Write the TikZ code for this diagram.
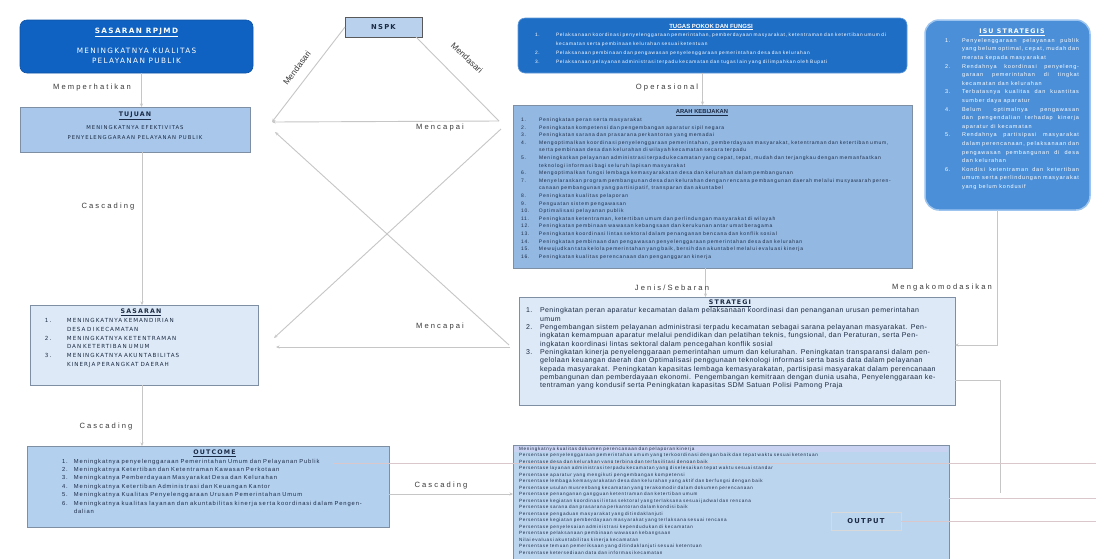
\documentclass[tikz,border=0pt]{standalone}
\usepackage{fontspec}
\setmainfont{Liberation Sans}
\newfontfamily\widefont[LetterSpace=18]{DejaVu Sans}
\newfontfamily\labfont[LetterSpace=28]{Liberation Sans}
\newfontfamily\listfont[LetterSpace=15]{Liberation Sans}
\newfontfamily\stratfont[LetterSpace=6]{Liberation Sans}
\usetikzlibrary{arrows.meta,calc}
\definecolor{rpjmdcol}{HTML}{1062C2}
\definecolor{tufucol}{HTML}{1F6EC6}
\definecolor{isucol}{HTML}{4B8FD8}
\definecolor{isuedge}{HTML}{9CC4EE}
\definecolor{tujuanfill}{HTML}{A8C7EA}
\definecolor{arahfill}{HTML}{93B8E2}
\definecolor{palefill}{HTML}{DDE9F6}
\definecolor{outcomefill}{HTML}{B3D0EE}
\definecolor{outputfill}{HTML}{BCD5EF}
\definecolor{stripfill}{HTML}{C9D2F0}
\definecolor{nspkfill}{HTML}{B9D1EC}
\definecolor{boxedge}{HTML}{7F8FA3}
\definecolor{conncol}{HTML}{C6C6C6}
\definecolor{pinkcol}{HTML}{D9C7CC}
\definecolor{txt}{HTML}{1B2A44}
\definecolor{labtxt}{HTML}{3A3A3A}
\setlength\parskip{0pt}
\newlength\lsw
\newcommand{\lsitem}[2]{\par\noindent\hangindent=\lsw\hangafter=1\makebox[\lsw][l]{#1}#2}
\newcommand{\boxtitle}[1]{{\centering #1\par}}
\begin{document}
\begin{tikzpicture}[x=1pt,y=-1pt,
  boxnode/.style={draw=boxedge, line width=0.6pt, anchor=north west, inner sep=0pt, outer sep=0pt},
  txtnode/.style={anchor=north west, inner sep=0pt, outer sep=0pt, align=left, text=txt},
  conn/.style={draw=conncol, line width=0.9pt},
  arr/.style={conn, -{Stealth[length=3.5pt,width=3pt]}},
  pinkline/.style={draw=pinkcol, line width=0.8pt},
  lab/.style={font=\labfont\fontsize{7.6}{8}\selectfont, text=labtxt, inner sep=0pt},
  rlab/.style={font=\fontsize{8.5}{9}\selectfont, text=labtxt, inner sep=0pt}]
\fill[white] (0,0) rectangle (1096,558);
\useasboundingbox (0,0) rectangle (1096,558);

% ---------- boxes ----------
\node[boxnode, fill=rpjmdcol, draw=rpjmdcol!85!black, rounded corners=7pt, minimum width=233pt, minimum height=53pt] (rpjmd) at (20,20) {};
\node[anchor=north, inner sep=0pt, align=center, text=white, font=\widefont\fontsize{7.3}{10}\selectfont] (rpjmdT) at ($(rpjmd.north)+(0,8)$)
 {\textbf{\underline{SASARAN RPJMD}}\\[10pt]MENINGKATNYA KUALITAS\\PELAYANAN PUBLIK};

\node[boxnode, fill=tujuanfill, minimum width=230pt, minimum height=45pt] (tujuan) at (20,107) {};
\node[anchor=north, inner sep=0pt, align=center, text=txt, font=\widefont\fontsize{5.3}{10.5}\selectfont] (tujuanT) at ($(tujuan.north)+(0,5)$)
 {{\fontsize{6.3}{7}\selectfont\textbf{\underline{TUJUAN}}}\\[2pt]MENINGKATNYA EFEKTIVITAS\\PENYELENGGARAAN PELAYANAN PUBLIK};

\node[boxnode, fill=palefill, minimum width=228pt, minimum height=80pt] (sasaran) at (30,305) {};
\node[txtnode, text width=192pt, font=\widefont\fontsize{5.6}{8.8}\selectfont] (sasaranT) at (45,309)
 {\boxtitle{\fontsize{6.3}{8.8}\selectfont\textbf{\underline{SASARAN}}}\setlength\lsw{22pt}%
  \lsitem{1.}{MENINGKATNYA KEMANDIRIAN\newline DESA DI KECAMATAN}%
  \lsitem{2.}{MENINGKATNYA KETENTRAMAN\newline DAN KETERTIBAN UMUM}%
  \lsitem{3.}{MENINGKATNYA AKUNTABILITAS\newline KINERJA PERANGKAT DAERAH}\par};

\node[boxnode, fill=outcomefill, minimum width=362pt, minimum height=81pt] (outcome) at (27,446) {};
\node[txtnode, text width=305pt, font=\listfont\fontsize{5.8}{8.4}\selectfont] (outcomeT) at (62,450)
 {\boxtitle{\widefont\fontsize{6.3}{8.4}\selectfont\textbf{\underline{OUTCOME}}}\setlength\lsw{12pt}%
  \lsitem{1.}{Meningkatnya penyelenggaraan Pemerintahan Umum dan Pelayanan Publik}%
  \lsitem{2.}{Meningkatnya Ketertiban dan Ketentraman Kawasan Perkotaan}%
  \lsitem{3.}{Meningkatnya Pemberdayaan Masyarakat Desa dan Kelurahan}%
  \lsitem{4.}{Meningkatnya Ketertiban Administrasi dan Keuangan Kantor}%
  \lsitem{5.}{Meningkatnya Kualitas Penyelenggaraan Urusan Pemerintahan Umum}%
  \lsitem{6.}{Meningkatnya kualitas layanan dan akuntabilitas kinerja serta koordinasi dalam Pengendalian}\par};

\node[boxnode, fill=nspkfill, draw=gray!70!black, minimum width=77pt, minimum height=20pt, text=txt, font=\widefont\bfseries\fontsize{6.8}{7}\selectfont] (nspk) at (345,17) {NSPK};

\node[boxnode, fill=tufucol, draw=tufucol!70!white, rounded corners=7pt, minimum width=389pt, minimum height=55pt] (tufu) at (518,18) {};
\node[txtnode, text=white, text width=352pt, font=\listfont\fontsize{4.8}{8.8}\selectfont] (tufuT) at (535,24)
 {\boxtitle{\rmfamily\fontsize{6}{7}\selectfont\textbf{\underline{TUGAS POKOK DAN FUNGSI}}}\setlength\lsw{21pt}%
  \lsitem{1.}{Pelaksanaan koordinasi penyelenggaraan pemerintahan, pemberdayaan masyarakat, ketentraman dan ketertiban umum di kecamatan serta pembinaan kelurahan sesuai ketentuan}%
  \lsitem{2.}{Pelaksanaan pembinaan dan pengawasan penyelenggaraan pemerintahan desa dan kelurahan}%
  \lsitem{3.}{Pelaksanaan pelayanan administrasi terpadu kecamatan dan tugas lain yang dilimpahkan oleh Bupati}\par};

\node[boxnode, fill=isucol, draw=isuedge, line width=1.5pt, rounded corners=14pt, minimum width=165pt, minimum height=190pt] (isu) at (925,20) {};
\node[txtnode, align=justify, text=white, text width=134pt, font=\listfont\fontsize{5.5}{8.6}\selectfont] (isuT) at (945,29)
 {\boxtitle{\widefont\fontsize{6.3}{8.6}\selectfont\textbf{\underline{ISU STRATEGIS}}}\setlength\lsw{17pt}%
  \lsitem{1.}{Penyelenggaraan pelayanan publik yang belum optimal, cepat, mudah dan merata kepada masyarakat}%
  \lsitem{2.}{Rendahnya koordinasi penyelenggaraan pemerintahan di tingkat kecamatan dan kelurahan}%
  \lsitem{3.}{Terbatasnya kualitas dan kuantitas sumber daya aparatur}%
  \lsitem{4.}{Belum optimalnya pengawasan dan pengendalian terhadap kinerja aparatur di kecamatan}%
  \lsitem{5.}{Rendahnya partisipasi masyarakat dalam perencanaan, pelaksanaan dan pengawasan pembangunan di desa dan kelurahan}%
  \lsitem{6.}{Kondisi ketentraman dan ketertiban umum serta perlindungan masyarakat yang belum kondusif}\par};

\node[boxnode, fill=arahfill, minimum width=399pt, minimum height=163pt] (arah) at (513,105) {};
\node[txtnode, text width=362pt, font=\listfont\fontsize{5}{7.6}\selectfont] (arahT) at (521,110)
 {\boxtitle{\rmfamily\fontsize{5.8}{7.6}\selectfont\textbf{\underline{ARAH KEBIJAKAN}}}\setlength\lsw{18pt}%
  \lsitem{1.}{Peningkatan peran serta masyarakat}%
  \lsitem{2.}{Peningkatan kompetensi dan pengembangan aparatur sipil negara}%
  \lsitem{3.}{Peningkatan sarana dan prasarana perkantoran yang memadai}%
  \lsitem{4.}{Mengoptimalkan koordinasi penyelenggaraan pemerintahan, pemberdayaan masyarakat, ketentraman dan ketertiban umum, serta pembinaan desa dan kelurahan di wilayah kecamatan secara terpadu}%
  \lsitem{5.}{Meningkatkan pelayanan administrasi terpadu kecamatan yang cepat, tepat, mudah dan terjangkau dengan memanfaatkan teknologi informasi bagi seluruh lapisan masyarakat}%
  \lsitem{6.}{Mengoptimalkan fungsi lembaga kemasyarakatan desa dan kelurahan dalam pembangunan}%
  \lsitem{7.}{Menyelaraskan program pembangunan desa dan kelurahan dengan rencana pembangunan daerah melalui musyawarah perencanaan pembangunan yang partisipatif, transparan dan akuntabel}%
  \lsitem{8.}{Peningkatan kualitas pelaporan}%
  \lsitem{9.}{Penguatan sistem pengawasan}%
  \lsitem{10.}{Optimalisasi pelayanan publik}%
  \lsitem{11.}{Peningkatan ketentraman, ketertiban umum dan perlindungan masyarakat di wilayah}%
  \lsitem{12.}{Peningkatan pembinaan wawasan kebangsaan dan kerukunan antar umat beragama}%
  \lsitem{13.}{Peningkatan koordinasi lintas sektoral dalam penanganan bencana dan konflik sosial}%
  \lsitem{14.}{Peningkatan pembinaan dan pengawasan penyelenggaraan pemerintahan desa dan kelurahan}%
  \lsitem{15.}{Mewujudkan tata kelola pemerintahan yang baik, bersih dan akuntabel melalui evaluasi kinerja}%
  \lsitem{16.}{Peningkatan kualitas perencanaan dan penganggaran kinerja}\par};

\node[boxnode, fill=palefill, minimum width=436pt, minimum height=108pt] (strategi) at (519,297) {};
\node[txtnode, text width=408pt, font=\stratfont\fontsize{7}{8.3}\selectfont] (strategiT) at (526,300)
 {\boxtitle{\widefont\fontsize{6.3}{8.3}\selectfont\textbf{\underline{STRATEGI}}}\setlength\lsw{14pt}%
  \lsitem{1.}{Peningkatan peran aparatur kecamatan dalam pelaksanaan koordinasi dan penanganan urusan pemerintahan umum}%
  \lsitem{2.}{Pengembangan sistem pelayanan administrasi terpadu kecamatan sebagai sarana pelayanan masyarakat. Peningkatan kemampuan aparatur melalui pendidikan dan pelatihan teknis, fungsional, dan Peraturan, serta Peningkatan koordinasi lintas sektoral dalam pencegahan konflik sosial}%
  \lsitem{3.}{Peningkatan kinerja penyelenggaraan pemerintahan umum dan kelurahan. Peningkatan transparansi dalam pengelolaan keuangan daerah dan Optimalisasi penggunaan teknologi informasi serta basis data dalam pelayanan kepada masyarakat. Peningkatan kapasitas lembaga kemasyarakatan, partisipasi masyarakat dalam perencanaan pembangunan dan pemberdayaan ekonomi. Pengembangan kemitraan dengan dunia usaha, Penyelenggaraan ketentraman yang kondusif serta Peningkatan kapasitas SDM Satuan Polisi Pamong Praja}\par};

\node[boxnode, fill=outputfill, minimum width=436pt, minimum height=120pt] (output) at (513,445) {};
\fill[stripfill] (514,446) rectangle (948,452);
\node[txtnode, text width=380pt, font=\listfont\fontsize{4.6}{6.5}\selectfont] (outputT) at (519,447)
 {Meningkatnya kualitas dokumen perencanaan dan pelaporan kinerja\par
  Persentase penyelenggaraan pemerintahan umum yang terkoordinasi dengan baik dan tepat waktu sesuai ketentuan\par
  Persentase desa dan kelurahan yang terbina dan terfasilitasi dengan baik\par
  Persentase layanan administrasi terpadu kecamatan yang diselesaikan tepat waktu sesuai standar\par
  Persentase aparatur yang mengikuti pengembangan kompetensi\par
  Persentase lembaga kemasyarakatan desa dan kelurahan yang aktif dan berfungsi dengan baik\par
  Persentase usulan musrenbang kecamatan yang terakomodir dalam dokumen perencanaan\par
  Persentase penanganan gangguan ketentraman dan ketertiban umum\par
  Persentase kegiatan koordinasi lintas sektoral yang terlaksana sesuai jadwal dan rencana\par
  Persentase sarana dan prasarana perkantoran dalam kondisi baik\par
  Persentase pengaduan masyarakat yang ditindaklanjuti\par
  Persentase kegiatan pemberdayaan masyarakat yang terlaksana sesuai rencana\par
  Persentase penyelesaian administrasi kependudukan di kecamatan\par
  Persentase pelaksanaan pembinaan wawasan kebangsaan\par
  Nilai evaluasi akuntabilitas kinerja kecamatan\par
  Persentase temuan pemeriksaan yang ditindaklanjuti sesuai ketentuan\par
  Persentase ketersediaan data dan informasi kecamatan\par};
\node[draw=gray!30, fill=outputfill, minimum width=70pt, minimum height=18pt, inner sep=1pt, text=txt, font=\widefont\bfseries\fontsize{6.8}{8}\selectfont] (outlbl) at (866,521) {OUTPUT};

% ---------- anchor points beside boxes ----------
\coordinate (tujR1) at ($(tujuan.east)+(22,-7.5)$);
\coordinate (tujR2) at ($(tujuan.east)+(25,2.5)$);
\coordinate (sasR1) at ($(sasaran.east)+(16,-7)$);
\coordinate (sasR2) at ($(sasaran.east)+(18,2)$);
\coordinate (arahL1) at ($(arah.west)+(-14,-65.5)$);
\coordinate (arahL2) at ($(arah.west)+(-12,-57.5)$);
\coordinate (stratL1) at ($(strategi.west)+(-10,-6)$);
\coordinate (stratL2) at ($(strategi.west)+(-9,-4)$);
\coordinate (stratR) at ($(strategi.east)+(0,-6)$);
\coordinate (sv) at (1000,493);
\coordinate (h1a) at (333,463);
\coordinate (h1b) at (1096,463);
\coordinate (h2a) at (949,498);
\coordinate (h2b) at (1096,498);

% ---------- connectors ----------
\draw[arr] ([xshift=5pt]rpjmd.south) -- ([xshift=5pt]rpjmd.south |- tujuan.north);
\draw[arr] ([xshift=7pt]tujuan.south) -- ([xshift=7pt]tujuan.south |- sasaran.north);
\draw[arr] ([xshift=-2pt]sasaran.south) -- ([xshift=-2pt]sasaran.south |- outcome.north);
\draw[arr] ([yshift=-7.5pt]outcome.east) -- ([yshift=-7.5pt]outcome.east -| output.west);
\draw[arr] (nspk.west) -- (tujR1);
\draw[conn] ($(nspk.south east)+(-6,0)$) -- (arahL1);
\draw[arr] (arahL1) -- (tujR1);
\draw[arr] (arahL2) -- (sasR1);
\draw[arr] (stratL1) -- (tujR2);
\draw[arr] (stratL2) -- (sasR2);
\draw[arr] ([xshift=-10pt]tufu.south) -- ([xshift=-10pt]tufu.south |- arah.north);
\draw[arr] ([xshift=-7pt]arah.south) -- ([xshift=-7pt]arah.south |- strategi.north);
\draw[arr] ([xshift=-10pt]isu.south) -- ([xshift=-10pt]isu.south |- stratR) -- (stratR);
\draw[conn] ([yshift=-29pt]strategi.east) -| (sv);
\draw[pinkline] (h1a) -- (h1b);
\draw[pinkline] (h2a) -- (h2b);
\draw[pinkline] (outlbl.east) -- (outlbl.east -| h2b);

% ---------- connector labels ----------
\node[lab] (lMemp) at (92,88) {Memperhatikan};
\node[lab] (lCas1) at (108,207) {Cascading};
\node[lab] (lCas2) at (106,427) {Cascading};
\node[lab] (lCas3) at (441,486) {Cascading};
\node[lab] (lMenc1) at (440,128) {Mencapai};
\node[lab] (lMenc2) at (440,327) {Mencapai};
\node[lab] (lOps) at (667,88) {Operasional};
\node[lab] (lJen) at (672,288) {Jenis/Sebaran};
\node[lab] (lMeng) at (942,288) {Mengakomodasikan};
\node[rlab, rotate=53] (lMend1) at (297,68) {Mendasari};
\node[rlab, rotate=-43] (lMend2) at (467,58) {Mendasari};
\end{tikzpicture}
\end{document}
